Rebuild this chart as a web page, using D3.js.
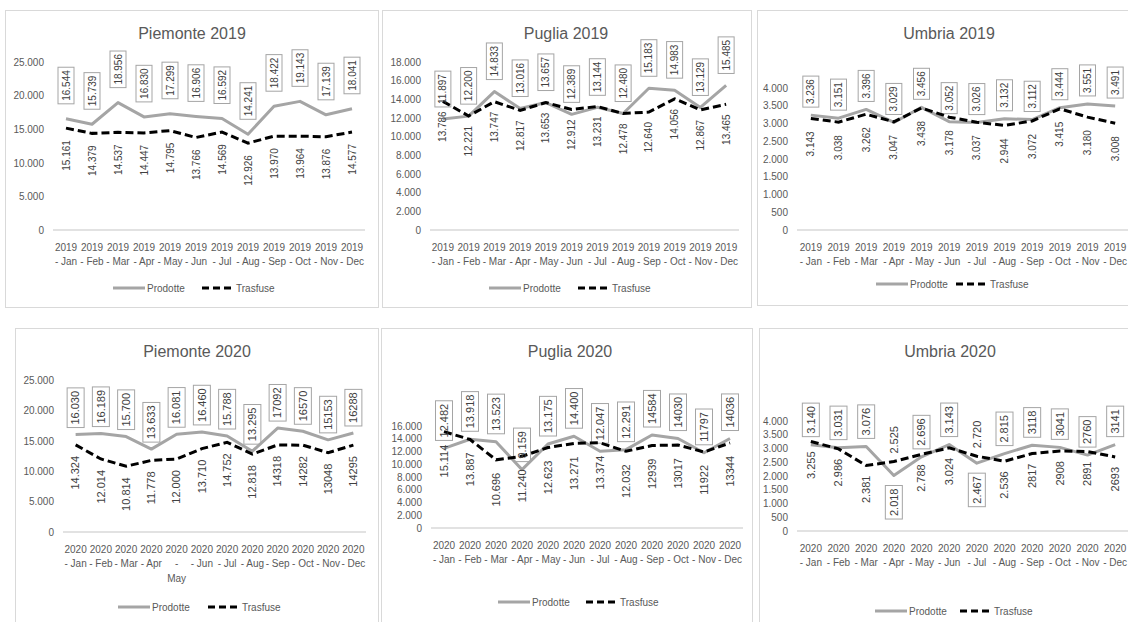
<!DOCTYPE html>
<html lang="it">
<head>
<meta charset="utf-8">
<script src="https://d3js.org/d3.v7.min.js"></script>
<style>
  body { margin: 0; background: #fff; }
  svg { display: block; font-family: "Liberation Sans", Arial, sans-serif; }
  .tick text { fill: #595959; font-size: 10px; }
</style>
</head>
<body>
<svg width="1128" height="622"></svg>
<script>
// categories
var months = ["Jan", "Feb", "Mar", "Apr", "May", "Jun", "Jul", "Aug", "Sep", "Oct", "Nov", "Dec"];

// blood units, produced (Prodotte) and transfused (Trasfuse)
var piemonte2019Prodotte = [16544, 15739, 18956, 16830, 17299, 16906, 16592, 14241, 18422, 19143, 17139, 18041];
var piemonte2019Trasfuse = [15161, 14379, 14537, 14447, 14795, 13766, 14569, 12926, 13970, 13964, 13876, 14577];
var puglia2019Prodotte = [11897, 12200, 14833, 13016, 13657, 12389, 13144, 12480, 15183, 14983, 13129, 15485];
var puglia2019Trasfuse = [13786, 12221, 13747, 12817, 13653, 12912, 13231, 12478, 12640, 14056, 12867, 13465];
var umbria2019Prodotte = [3236, 3151, 3396, 3029, 3456, 3052, 3026, 3132, 3112, 3444, 3551, 3491];
var umbria2019Trasfuse = [3143, 3038, 3262, 3047, 3438, 3178, 3037, 2944, 3072, 3415, 3180, 3008];
var piemonte2020Prodotte = [16030, 16189, 15700, 13633, 16081, 16460, 15788, 13295, 17092, 16570, 15153, 16288];
var piemonte2020Trasfuse = [14324, 12014, 10814, 11778, 12000, 13710, 14752, 12818, 14318, 14282, 13048, 14295];
var puglia2020Prodotte = [12482, 13918, 13523, 9159, 13175, 14400, 12047, 12291, 14584, 14030, 11797, 14036];
var puglia2020Trasfuse = [15114, 13887, 10696, 11240, 12623, 13271, 13374, 12032, 12939, 13017, 11922, 13344];
var umbria2020Prodotte = [3140, 3031, 3076, 2018, 2696, 3143, 2467, 2815, 3118, 3041, 2760, 3141];
var umbria2020Trasfuse = [3255, 2986, 2381, 2525, 2788, 3024, 2720, 2536, 2817, 2908, 2891, 2693];

var it = d3.formatLocale({ decimal: ",", thousands: ".", grouping: [3], currency: ["€", ""] });
var fmt = it.format(",d");

var svg = d3.select("svg");

// layout of each chart box
var panels = [
  { title: "Piemonte 2019", year: "2019", prod: piemonte2019Prodotte, tras: piemonte2019Trasfuse,
    box: [5, 10, 378, 307], plot: [53, 365, 62, 230], yMax: 25000, yStep: 5000,
    titleX: 192, titleY: 39, legend: [113, 202, 288], gapUp: 15, gapDown: 12, labelSize: 10 },
  { title: "Puglia 2019", year: "2019", prod: puglia2019Prodotte, tras: puglia2019Trasfuse,
    box: [382, 10, 751, 307], plot: [430, 739, 62, 230], yMax: 18000, yStep: 2000,
    titleX: 566, titleY: 39, legend: [489, 578, 288], gapUp: 12, gapDown: 10, labelSize: 10 },
  { title: "Umbria 2019", year: "2019", prod: umbria2019Prodotte, tras: umbria2019Trasfuse,
    box: [757, 10, 1135, 305], plot: [797, 1129, 88, 230], yMax: 4000, yStep: 500,
    titleX: 949, titleY: 39, legend: [876, 956, 284], gapUp: 8, gapDown: 13, labelSize: 10 },
  { title: "Piemonte 2020", year: "2020", prod: piemonte2020Prodotte, tras: piemonte2020Trasfuse,
    box: [15, 328, 378, 640], plot: [63, 366, 380, 532], yMax: 25000, yStep: 5000,
    titleX: 197, titleY: 357, legend: [118, 208, 607], gapUp: 7, gapDown: 11, labelSize: 11,
    plainFrom: 8, split: [4] },
  { title: "Puglia 2020", year: "2020", prod: puglia2020Prodotte, tras: puglia2020Trasfuse,
    box: [381, 328, 752, 640], plot: [431, 743, 426, 528], yMax: 16000, yStep: 2000,
    titleX: 570, titleY: 357, legend: [498, 586, 602], gapUp: 8, gapDown: 13, labelSize: 11,
    plainFrom: 8 },
  { title: "Umbria 2020", year: "2020", prod: umbria2020Prodotte, tras: umbria2020Trasfuse,
    box: [759, 328, 1135, 640], plot: [797, 1129, 421, 531], yMax: 4000, yStep: 500,
    titleX: 950, titleY: 357, legend: [875, 960, 611], gapUp: 8, gapDown: 10, labelSize: 11,
    plainFrom: 8, flip: [3, 6] }
];

panels.forEach(drawPanel);

function drawPanel(p) {
  var g = svg.append("g");
  var labelText = function (v, i) {
    return p.plainFrom !== undefined && i >= p.plainFrom ? String(v) : fmt(v);
  };

  g.append("rect")
    .attr("x", p.box[0] + 0.5).attr("y", p.box[1] + 0.5)
    .attr("width", p.box[2] - p.box[0]).attr("height", p.box[3] - p.box[1])
    .style("fill", "none").style("stroke", "#d9d9d9");

  g.append("text")
    .attr("x", p.titleX).attr("y", p.titleY)
    .attr("text-anchor", "middle")
    .style("font-size", "16px").style("fill", "#595959")
    .text(p.title);

  var x = d3.scaleBand().domain(months).range([p.plot[0], p.plot[1]]);
  var y = d3.scaleLinear().domain([0, p.yMax]).range([p.plot[3], p.plot[2]]);
  var cx = function (i) { return x(months[i]) + x.bandwidth() / 2; };

  // y axis labels only
  var yAxis = g.append("g")
    .attr("transform", "translate(" + p.plot[0] + ",0)")
    .call(d3.axisLeft(y).tickValues(d3.range(0, p.yMax + 1, p.yStep)).tickFormat(fmt).tickSize(0).tickPadding(9));
  yAxis.select(".domain").remove();

  // x axis: baseline + two-line labels
  var xAxis = g.append("g")
    .attr("transform", "translate(0," + y(0) + ")")
    .call(d3.axisBottom(x).tickSize(0).tickFormat(""));
  xAxis.select(".domain")
    .attr("d", "M" + p.plot[0] + ",0H" + p.plot[1])
    .style("stroke", "#d9d9d9").style("stroke-width", 1.5);
  xAxis.selectAll(".tick").each(function (d, i) {
    var lines = [p.year];
    if (p.split && p.split.indexOf(i) >= 0) lines.push("-", d);
    else lines.push("- " + d);
    var t = d3.select(this).select("text").text(null).attr("y", 0).attr("dy", null);
    lines.forEach(function (s, k) {
      t.append("tspan").attr("x", 0).attr("y", 17 + k * 14.5).attr("dy", "0.35em").text(s);
    });
  });

  var line = d3.line().x(function (d, i) { return cx(i); }).y(function (d) { return y(d); });

  g.append("path").datum(p.prod)
    .attr("d", line)
    .style("fill", "none").style("stroke", "#a5a5a5").style("stroke-width", 3)
    .style("stroke-linejoin", "round");

  g.append("path").datum(p.tras)
    .attr("d", line)
    .style("fill", "none").style("stroke", "#000").style("stroke-width", 3)
    .style("stroke-dasharray", "8,4");

  // data labels, rotated; Prodotte boxed
  var pad = 3;
  function addLabel(v, i, up, boxed) {
    var px = cx(i), py = y(v);
    var gap = up ? p.gapUp : p.gapDown;
    var ay = up ? py - gap - (boxed ? pad : 0) : py + gap + (boxed ? pad : 0);
    var t = g.append("text")
      .attr("transform", "translate(" + px + "," + ay + ")rotate(-90)")
      .attr("text-anchor", up ? "start" : "end")
      .attr("dy", "0.35em")
      .style("font-size", p.labelSize + "px").style("fill", "#404040")
      .text(labelText(v, i));
    if (boxed) {
      var len = t.node().getComputedTextLength();
      var h = p.labelSize + 6;
      g.insert("rect", "text")
        .attr("x", px - h / 2)
        .attr("y", up ? ay - len - pad : ay - pad)
        .attr("width", h).attr("height", len + 2 * pad)
        .style("fill", "none").style("stroke", "#a5a5a5").style("stroke-width", 1);
    }
  }
  p.prod.forEach(function (v, i) {
    var flipped = p.flip && p.flip.indexOf(i) >= 0;
    addLabel(v, i, !flipped, true);
  });
  p.tras.forEach(function (v, i) {
    var flipped = p.flip && p.flip.indexOf(i) >= 0;
    addLabel(v, i, flipped, false);
  });

  // legend
  var ly = p.legend[2];
  g.append("line")
    .attr("x1", p.legend[0]).attr("x2", p.legend[0] + 32).attr("y1", ly).attr("y2", ly)
    .style("stroke", "#a5a5a5").style("stroke-width", 3);
  g.append("text")
    .attr("x", p.legend[0] + 34).attr("y", ly).attr("dy", "0.35em")
    .style("font-size", "10px").style("fill", "#595959").text("Prodotte");
  g.append("line")
    .attr("x1", p.legend[1]).attr("x2", p.legend[1] + 29).attr("y1", ly).attr("y2", ly)
    .style("stroke", "#000").style("stroke-width", 3).style("stroke-dasharray", "7,4");
  g.append("text")
    .attr("x", p.legend[1] + 34).attr("y", ly).attr("dy", "0.35em")
    .style("font-size", "10px").style("fill", "#595959").text("Trasfuse");
}
</script>
</body>
</html>
